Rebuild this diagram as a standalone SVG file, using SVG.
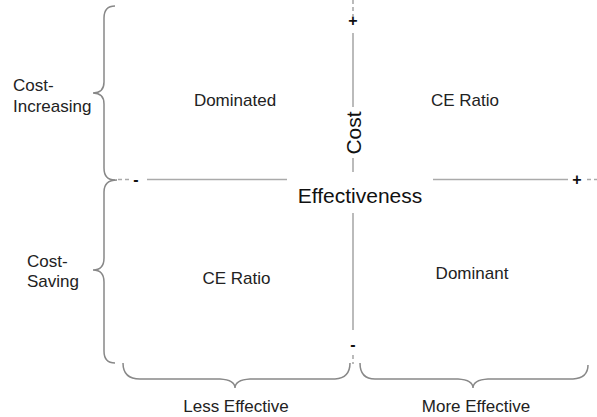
<svg xmlns="http://www.w3.org/2000/svg" width="597" height="417" viewBox="0 0 597 417">
<style>
.lbl{font-family:"Liberation Sans",Arial,sans-serif;font-size:17px;fill:#222}
.big{font-family:"Liberation Sans",Arial,sans-serif;font-size:21px;fill:#111}
.sign{font-family:"Liberation Sans",Arial,sans-serif;font-size:16px;font-weight:bold;fill:#111}
.axis{stroke:#aaa;stroke-width:1.6;fill:none}
.dash{stroke:#aaa;stroke-width:1.6;fill:none;stroke-dasharray:4 3}
.brace{stroke:#888;stroke-width:1.5;fill:none}
</style>
<rect width="597" height="417" fill="#fff"/>
<g id="connectors">
<line class="dash" x1="353" y1="0" x2="353" y2="16"/>
<line class="axis" x1="353" y1="33" x2="353" y2="107"/>
<line class="axis" x1="353" y1="158" x2="353" y2="172"/>
<line class="axis" x1="353" y1="213" x2="353" y2="330"/>
<line class="dash" x1="353" y1="355" x2="353" y2="364"/>
<line class="dash" x1="118" y1="179.5" x2="132" y2="179.5"/>
<line class="axis" x1="147" y1="179.5" x2="287" y2="179.5"/>
<line class="axis" x1="433" y1="179.5" x2="568" y2="179.5"/>
<line class="dash" x1="587" y1="179.5" x2="597" y2="179.5"/>
</g>
<g id="signs">
<text class="sign" x="353" y="26" text-anchor="middle">+</text>
<text class="sign" x="353" y="350" text-anchor="middle">-</text>
<text class="sign" x="136" y="185" text-anchor="middle">-</text>
<text class="sign" x="577" y="185" text-anchor="middle">+</text>
</g>
<g id="axis-labels">
<text class="big" x="360" y="203" text-anchor="middle">Effectiveness</text>
<text class="big" transform="translate(361,133) rotate(-90)" text-anchor="middle">Cost</text>
</g>
<g id="braces">
<path class="brace" d="M115,6 Q104,6 104,18 L104,82 Q104,93 93,93 Q104,93 104,104 L104,168 Q104,180 115,180"/>
<path class="brace" d="M117,180 Q104,180 104,192 L104,258 Q104,270 93,270 Q104,270 104,282 L104,351 Q104,363 115,363"/>
<path class="brace" d="M123,363 Q123,379 140,379 L220,379 Q235,380 235,388 Q235,380 250,379 L335,379 Q350,378 350,363"/>
<path class="brace" d="M360,363 Q360,379 375,379 L458,379 Q473,380 473,388 Q473,380 488,379 L573,379 Q588,378 588,365"/>
</g>
<g id="cost-increasing"><text class="lbl" x="13" y="91">Cost-</text><text class="lbl" x="13" y="112">Increasing</text></g>
<g id="cost-saving"><text class="lbl" x="27" y="267">Cost-</text><text class="lbl" x="27" y="287">Saving</text></g>
<g id="dominated"><text class="lbl" x="235" y="106" text-anchor="middle">Dominated</text></g>
<g id="ce-ratio-top"><text class="lbl" x="465" y="106" text-anchor="middle">CE Ratio</text></g>
<g id="ce-ratio-bottom"><text class="lbl" x="236.5" y="284" text-anchor="middle">CE Ratio</text></g>
<g id="dominant"><text class="lbl" x="472" y="279" text-anchor="middle">Dominant</text></g>
<g id="less-effective"><text class="lbl" x="236" y="412" text-anchor="middle">Less Effective</text></g>
<g id="more-effective"><text class="lbl" x="476" y="412" text-anchor="middle">More Effective</text></g>
</svg>
